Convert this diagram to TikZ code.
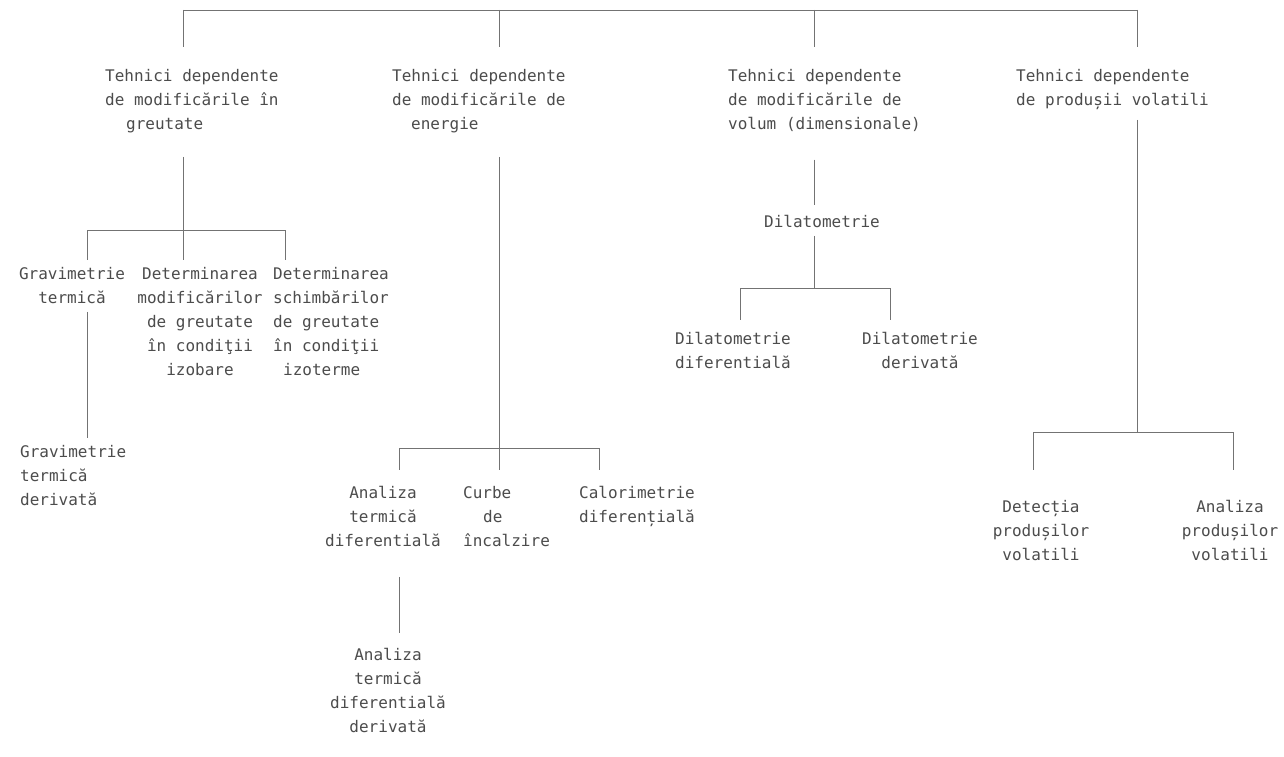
\documentclass[tikz,border=0pt]{standalone}
\usepackage{fontspec}
\usetikzlibrary{calc}
\newfontfamily\typefont{DejaVu Sans Mono}

\begin{document}
\begin{tikzpicture}[x=1pt,y=-1pt,
  txt/.style={inner sep=0pt,font=\typefont\fontsize{16}{24}\selectfont,text=black!70},
  ln/.style={black!55,line width=0.8pt}]
  \useasboundingbox[fill=white] (0,0) rectangle (1284,757);

  % first level
  \node[txt,anchor=north west,align=left] (wt) at (105,69) {Tehnici dependente\\de modificările în\\\hspace*{21pt}greutate};
  \node[txt,anchor=north west,align=left] (en) at (392,69) {Tehnici dependente\\de modificările de\\\hspace*{19pt}energie};
  \node[txt,anchor=north west,align=left] (vo) at (728,69) {Tehnici dependente\\de modificările de\\volum (dimensionale)};
  \node[txt,anchor=north west,align=left] (vp) at (1016,69) {Tehnici dependente\\de produșii volatili};

  \coordinate (t1) at (183,10);
  \coordinate (t2) at (499,10);
  \coordinate (t3) at (814,10);
  \coordinate (t4) at (1137,10);
  \draw[ln] (t1) -- (t4);
  \foreach \t/\n in {t1/wt,t2/en,t3/vo,t4/vp}
    \draw[ln] (\t) -- ($(\t |- \n.north)+(0,-22)$);

  % weight
  \node[txt,anchor=north,align=center] (gt) at (72,267) {Gravimetrie\\termică};
  \node[txt,anchor=north,align=center] (dm) at (200,267) {Determinarea\\modificărilor\\de greutate\\în condiţii\\izobare};
  \node[txt,anchor=north west,align=left] (ds) at (273,267) {Determinarea\\schimbărilor\\de greutate\\în condiţii\\\hspace*{10pt}izoterme};
  \node[txt,anchor=north west,align=left] (gd) at (20,445) {Gravimetrie\\termică\\derivată};

  \coordinate (wj) at (183,230);
  \coordinate (wl) at (87,230);
  \coordinate (wr) at (285,230);
  \draw[ln] ($(wj |- wt.south)+(0,24)$) -- (wj);
  \draw[ln] (wl) -- (wr);
  \draw[ln] (wl) -- ($(wl |- gt.north)+(0,-7)$);
  \draw[ln] (wj) -- ($(wj |- dm.north)+(0,-7)$);
  \draw[ln] (wr) -- ($(wr |- ds.north)+(0,-7)$);
  \draw[ln] ($(wl |- gt.south)+(0,8)$) -- ($(wl |- gd.north)+(0,-7)$);

  % energy
  \node[txt,anchor=north,align=center] (at) at (383,486) {Analiza\\termică\\diferentială};
  \node[txt,anchor=north west,align=left] (cb) at (463,486) {Curbe\\\hspace*{20pt}de\\încalzire};
  \node[txt,anchor=north,align=center] (cd) at (637,486) {Calorimetrie\\diferențială};
  \node[txt,anchor=north,align=center] (ad) at (388,648) {Analiza\\termică\\diferentială\\derivată};

  \coordinate (ej) at (499,448);
  \coordinate (el) at (399,448);
  \coordinate (er) at (599,448);
  \draw[ln] ($(ej |- en.south)+(0,24)$) -- (ej);
  \draw[ln] (el) -- (er);
  \draw[ln] (el) -- ($(el |- at.north)+(0,-16)$);
  \draw[ln] (ej) -- ($(ej |- cb.north)+(0,-16)$);
  \draw[ln] (er) -- ($(er |- cd.north)+(0,-16)$);
  \draw[ln] ($(el |- at.south)+(0,30)$) -- ($(el |- ad.north)+(0,-15)$);

  % volume
  \node[txt,anchor=north] (di) at (822,215) {Dilatometrie};
  \node[txt,anchor=north,align=center] (dd) at (733,332) {Dilatometrie\\diferentială};
  \node[txt,anchor=north,align=center] (dv) at (920,332) {Dilatometrie\\derivată};

  \coordinate (dj) at (814,288);
  \coordinate (dl) at (740,288);
  \coordinate (dr) at (890,288);
  \draw[ln] ($(t3 |- vo.south)+(0,28)$) -- ($(t3 |- di.north)+(0,-10)$);
  \draw[ln] ($(dj |- di.south)+(0,8)$) -- (dj);
  \draw[ln] (dl) -- (dr);
  \draw[ln] (dl) -- ($(dl |- dd.north)+(0,-12)$);
  \draw[ln] (dr) -- ($(dr |- dv.north)+(0,-12)$);

  % volatile products
  \node[txt,anchor=north,align=center] (dp) at (1041,500) {Detecția\\produșilor\\volatili};
  \node[txt,anchor=north,align=center] (ap) at (1230,500) {Analiza\\produșilor\\volatili};

  \coordinate (pj) at (1137,432);
  \coordinate (pl) at (1033,432);
  \coordinate (pr) at (1233,432);
  \draw[ln] ($(pj |- vp.south)+(0,10)$) -- (pj);
  \draw[ln] (pl) -- (pr);
  \draw[ln] (pl) -- ($(pl |- dp.north)+(0,-30)$);
  \draw[ln] (pr) -- ($(pr |- ap.north)+(0,-30)$);
\end{tikzpicture}
\end{document}
